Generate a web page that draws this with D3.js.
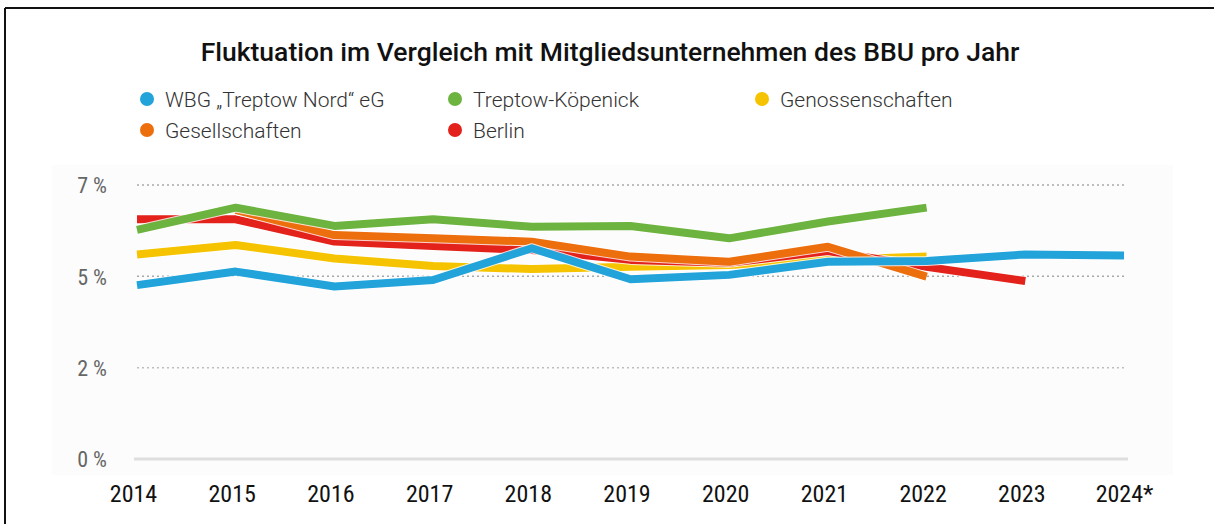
<!DOCTYPE html>
<html>
<head>
<meta charset="utf-8">
<script src="https://cdn.jsdelivr.net/npm/d3@7"></script>
<style>
  html, body { margin: 0; padding: 0; background: #fff; }
  svg { display: block; }
</style>
</head>
<body>
<div id="chart"></div>
<script>
// categories and tick labels
var years = ["2014", "2015", "2016", "2017", "2018", "2019", "2020", "2021", "2022", "2023", "2024*"];
var yTicks = [0, 2.5, 5, 7.5];
var yTickLabels = ["0 %", "2 %", "5 %", "7 %"];

// series values
var wbgTreptowNord   = [4.76, 5.13, 4.72, 4.90, 5.77, 4.92, 5.04, 5.40, 5.42, 5.60, 5.57];
var treptowKoepenick = [6.27, 6.88, 6.38, 6.56, 6.36, 6.38, 6.04, 6.50, 6.88, null, null];
var genossenschaften = [5.60, 5.86, 5.49, 5.28, 5.20, 5.26, 5.31, 5.45, 5.54, null, null];
var gesellschaften   = [null, 6.82, 6.13, 6.04, 5.95, 5.54, 5.40, 5.81, 4.99, null, null];
var berlin           = [6.56, 6.56, 5.95, 5.83, 5.72, 5.45, 5.37, 5.69, 5.26, 4.87, null];

var seriesNames  = ["WBG \u201ETreptow Nord\u201C eG", "Treptow-K\u00F6penick", "Genossenschaften", "Gesellschaften", "Berlin"];
var seriesValues = [wbgTreptowNord, treptowKoepenick, genossenschaften, gesellschaften, berlin];
var seriesColors = ["#22a3da", "#6db33f", "#f6c300", "#ec6e0d", "#e3221b"];
// drawing order, bottom to top
var drawOrder = [2, 4, 3, 1, 0];

var width = 1214, height = 524;
var margin = { left: 137, right: 90, top: 185, bottom: 65 };
var narrowFont = "'Liberation Sans Narrow', 'Roboto Condensed', 'DejaVu Sans Condensed', sans-serif";

var svg = d3.select("#chart").append("svg")
    .attr("width", width)
    .attr("height", height);

// frame (top and left rule)
svg.append("line")
    .attr("x1", 5).attr("y1", 8).attr("x2", width).attr("y2", 8)
    .attr("stroke", "#111").attr("stroke-width", 2);
svg.append("line")
    .attr("x1", 5).attr("y1", 8).attr("x2", 5).attr("y2", height)
    .attr("stroke", "#111").attr("stroke-width", 2);

// faint plot panel
svg.append("rect")
    .attr("x", 52).attr("y", 165)
    .attr("width", 1121).attr("height", 310)
    .attr("fill", "#fcfcfc");

svg.append("text")
    .attr("x", 610)
    .attr("y", 61)
    .attr("text-anchor", "middle")
    .style("font-family", "Roboto, 'Noto Sans', sans-serif")
    .style("font-weight", "500")
    .style("font-size", "26.5px")
    .style("fill", "#111")
    .text("Fluktuation im Vergleich mit Mitgliedsunternehmen des BBU pro Jahr");

// legend
var legendPos = [
    { x: 147, y: 99 }, { x: 455, y: 99 }, { x: 762, y: 99 },
    { x: 147, y: 130 }, { x: 455, y: 130 }
];
var legend = svg.append("g").attr("class", "legend");
seriesNames.forEach(function (name, i) {
    var g = legend.append("g")
        .attr("transform", "translate(" + legendPos[i].x + "," + legendPos[i].y + ")");
    g.append("circle")
        .attr("r", 7)
        .attr("fill", seriesColors[i]);
    g.append("text")
        .attr("x", 18)
        .attr("y", 7.5)
        .style("font-family", "Roboto, 'Noto Sans', sans-serif")
        .style("font-weight", "300")
        .style("font-size", "21px")
        .style("fill", "#333")
        .text(name);
});

var x = d3.scalePoint()
    .domain(years)
    .range([margin.left, width - margin.right]);

var y = d3.scaleLinear()
    .domain([0, 7.5])
    .range([height - margin.bottom, margin.top]);

// grid lines
var grid = svg.append("g").attr("class", "grid");
yTicks.forEach(function (t) {
    if (t === 0) {
        grid.append("line")
            .attr("x1", margin.left - 3).attr("x2", width - margin.right + 4)
            .attr("y1", y(t)).attr("y2", y(t))
            .attr("stroke", "#dedede")
            .attr("stroke-width", 3);
    } else {
        grid.append("line")
            .attr("x1", margin.left).attr("x2", width - margin.right)
            .attr("y1", y(t)).attr("y2", y(t))
            .attr("stroke", t === 2.5 ? "#bdbdbd" : "#a8a8a8")
            .attr("stroke-width", 1.5)
            .attr("stroke-dasharray", "2,3");
    }
});

// y axis labels
var yAxis = d3.axisLeft(y)
    .tickValues(yTicks)
    .tickSize(0)
    .tickPadding(0)
    .tickFormat(function (d, i) { return yTickLabels[i]; });

var yg = svg.append("g")
    .attr("transform", "translate(107,0)")
    .call(yAxis);
yg.select(".domain").remove();
yg.selectAll("text")
    .attr("dy", "0.35em")
    .style("font-family", narrowFont)
    .style("font-stretch", "condensed")
    .style("font-size", "22px")
    .style("fill", "#666");

// x axis labels
var xAxis = d3.axisBottom(x).tickSize(0).tickPadding(0);
var xg = svg.append("g")
    .attr("transform", "translate(0," + 502 + ")")
    .call(xAxis);
xg.select(".domain").remove();
xg.selectAll("text")
    .attr("dy", 0)
    .attr("dx", function (d) { return d === "2024*" ? 0 : -4; })
    .style("font-family", narrowFont)
    .style("font-stretch", "condensed")
    .style("font-size", "24px")
    .style("fill", "#111");

// lines
var line = d3.line()
    .defined(function (d) { return d != null; })
    .x(function (d, i) { return x(years[i]); })
    .y(function (d) { return y(d); });

var lines = svg.append("g").attr("class", "lines");
drawOrder.forEach(function (i) {
    lines.append("path")
        .attr("d", line(seriesValues[i]))
        .attr("fill", "none")
        .attr("stroke", "#ffffff")
        .attr("stroke-opacity", 0.8)
        .attr("stroke-width", 10)
        .attr("stroke-linejoin", "round");
    lines.append("path")
        .attr("d", line(seriesValues[i]))
        .attr("fill", "none")
        .attr("stroke", seriesColors[i])
        .attr("stroke-width", 8)
        .attr("stroke-linejoin", "round")
        .attr("stroke-linecap", "butt");
});
</script>
</body>
</html>
